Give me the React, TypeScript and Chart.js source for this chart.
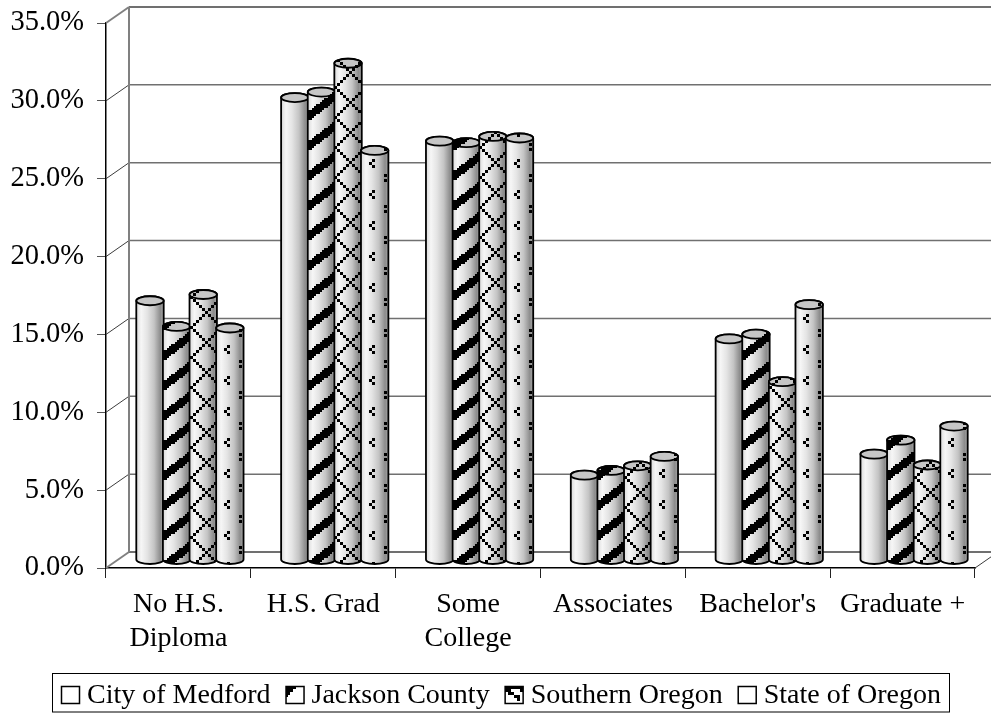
import React, { useEffect, useRef } from "react";
import { Chart, registerables } from "chart.js";

Chart.register(...registerables);

const categories = [["No H.S.", "Diploma"], "H.S. Grad", ["Some", "College"], "Associates", "Bachelor's", "Graduate +"];
const seriesNames = ["City of Medford", "Jackson County", "Southern Oregon", "State of Oregon"];
const cityOfMedford = [16.65, 29.7, 26.9, 5.45, 14.2, 6.8];
const jacksonCounty = [15.0, 30.05, 26.8, 5.75, 14.5, 7.7];
const southernOregon = [17.05, 31.9, 27.2, 6.05, 11.45, 6.1];
const stateOfOregon = [14.9, 26.3, 27.1, 6.65, 16.4, 8.6];

const FONT = "'Liberation Serif', 'Times New Roman', serif";
const DEPTH_X = 23;
const DEPTH_Y = 16;
const BAR_DX = 11.5;
const BAR_DY = 8;
const CAP = 4.5;

function tile(w: number, h: number, paint: (c: CanvasRenderingContext2D) => void) {
  const cv = document.createElement("canvas");
  cv.width = w;
  cv.height = h;
  const c = cv.getContext("2d")!;
  c.fillStyle = "#000";
  paint(c);
  return cv;
}

function makeTiles() {
  const stripes = tile(40, 30, (c) => {
    for (let x = 0; x < 40; x += 2)
      for (let y = 0; y < 30; y += 2)
        if (((y + 0.75 * x) % 30 + 30) % 30 < 10) c.fillRect(x, y, 2, 2);
  });
  const lattice = tile(30, 30, (c) => {
    for (let x = 0; x < 30; x += 3)
      for (let y = 0; y < 30; y += 3) {
        const a = (x + y + 24) % 30;
        const b = (x - y + 36) % 30;
        if (a === 0 || b === 0) c.fillRect(x, y, 3, 3);
      }
  });
  const dots = tile(40, 31, (c) => {
    c.fillRect(11, 2, 3, 3);
    c.fillRect(8, 5, 3, 3);
    c.fillRect(11, 8, 3, 3);
    c.fillRect(23, 17, 3, 3);
    c.fillRect(23, 22, 3, 3);
  });
  return [null, stripes, lattice, dots];
}

function makeSwatchTiles() {
  const jackson = tile(18, 17, (c) => {
    c.fillRect(0, 0, 10, 3);
    c.fillRect(0, 3, 7, 3);
    c.fillRect(0, 6, 4, 3);
    c.fillRect(0, 9, 2, 2);
  });
  const southern = tile(18, 17, (c) => {
    c.fillRect(0, 0, 18, 3);
    c.fillRect(0, 3, 6, 3);
    c.fillRect(3, 6, 6, 3);
    c.fillRect(9, 9, 6, 3);
    c.fillRect(15, 3, 3, 3);
    c.fillRect(12, 12, 3, 3);
  });
  return [null, jackson, southern, null];
}

function fillTile(ctx: CanvasRenderingContext2D, cv: HTMLCanvasElement | null, ox: number, oy: number) {
  if (!cv) return;
  const p = ctx.createPattern(cv, "repeat")!;
  p.setTransform(new DOMMatrix().translate(Math.round(ox), Math.round(oy)));
  ctx.fillStyle = p;
  ctx.fill();
}

const wallPlugin = {
  id: "wall3d",
  beforeDatasetsDraw(chart: any) {
    const { ctx } = chart;
    const y = chart.scales.y;
    const x = chart.scales.x;
    const left = x.left;
    const right = x.right;
    ctx.save();
    y.ticks.forEach((t: any, i: number) => {
      const py = y.getPixelForValue(t.value);
      const edge = i === 0 || i === y.ticks.length - 1;
      ctx.strokeStyle = edge ? "#808080" : "#3c3c3c";
      ctx.lineWidth = edge ? 2 : 1;
      ctx.beginPath();
      ctx.moveTo(left, py);
      ctx.lineTo(left + DEPTH_X, py - DEPTH_Y);
      ctx.stroke();
      ctx.strokeStyle = "#707070";
      ctx.lineWidth = edge ? 2 : 1.5;
      ctx.beginPath();
      ctx.moveTo(left + DEPTH_X, py - DEPTH_Y);
      ctx.lineTo(right + DEPTH_X, py - DEPTH_Y);
      ctx.stroke();
    });
    ctx.strokeStyle = "#808080";
    ctx.lineWidth = 2;
    ctx.beginPath();
    ctx.moveTo(left + DEPTH_X, y.top - DEPTH_Y);
    ctx.lineTo(left + DEPTH_X, y.bottom - DEPTH_Y);
    ctx.stroke();
    ctx.strokeStyle = "#3c3c3c";
    ctx.lineWidth = 1;
    ctx.beginPath();
    ctx.moveTo(right, y.bottom);
    ctx.lineTo(right + DEPTH_X, y.bottom - DEPTH_Y);
    ctx.stroke();
    ctx.restore();
  },
};

function cylinderPlugin(tiles: any[]) {
  return {
    id: "cylinders",
    afterDatasetsDraw(chart: any) {
      const { ctx } = chart;
      chart.data.datasets.forEach((_: any, di: number) => {
        chart.getDatasetMeta(di).data.forEach((bar: any) => {
          const cx = bar.x + BAR_DX;
          const r = 13.7;
          const top = bar.y - BAR_DY;
          const base = bar.base - BAR_DY;
          const l = cx - r;
          const grad = ctx.createLinearGradient(l, 0, l + 2 * r, 0);
          grad.addColorStop(0, "#dadada");
          grad.addColorStop(0.18, "#f6f6f6");
          grad.addColorStop(0.4, "#e4e4e4");
          grad.addColorStop(0.65, "#c4c4c4");
          grad.addColorStop(0.88, "#8c8c8c");
          grad.addColorStop(1, "#a8a8a8");
          ctx.save();
          ctx.beginPath();
          ctx.moveTo(l, top);
          ctx.lineTo(l, base);
          ctx.ellipse(cx, base, r, CAP, 0, Math.PI, 0, true);
          ctx.lineTo(l + 2 * r, top);
          ctx.ellipse(cx, top, r, CAP, 0, 0, Math.PI, true);
          ctx.closePath();
          ctx.fillStyle = grad;
          ctx.fill();
          fillTile(ctx, tiles[di], l, base);
          ctx.strokeStyle = "#000";
          ctx.lineWidth = 1.8;
          ctx.stroke();
          ctx.beginPath();
          ctx.ellipse(cx, top, r, CAP, 0, 0, Math.PI * 2);
          ctx.fillStyle = "#c6c6c6";
          ctx.fill();
          fillTile(ctx, tiles[di], l, base);
          ctx.stroke();
          ctx.restore();
        });
      });
    },
  };
}

function legendPlugin(tiles: any[]) {
  return {
    id: "boxLegend",
    afterDraw(chart: any) {
      const { ctx } = chart;
      ctx.save();
      ctx.strokeStyle = "#000";
      ctx.lineWidth = 1;
      ctx.strokeRect(52.5, 673.5, 897, 38.5);
      ctx.font = "28px " + FONT;
      ctx.textBaseline = "middle";
      ctx.textAlign = "left";
      let x = 61;
      chart.data.datasets.forEach((ds: any, i: number) => {
        ctx.beginPath();
        ctx.rect(x + 0.5, 686.5, 18, 17);
        ctx.fillStyle = "#fff";
        ctx.fill();
        fillTile(ctx, tiles[i], x, 686);
        ctx.lineWidth = 1.5;
        ctx.strokeStyle = "#000";
        ctx.stroke();
        ctx.fillStyle = "#000";
        ctx.fillText(ds.label, x + 26, 696);
        x += 26 + ctx.measureText(ds.label).width + 15;
      });
      ctx.restore();
    },
  };
}

export default function App() {
  const ref = useRef<HTMLCanvasElement>(null);
  useEffect(() => {
    const tiles = makeTiles();
    const swatches = makeSwatchTiles();
    const values = [cityOfMedford, jacksonCounty, southernOregon, stateOfOregon];
    const noPad = (s: any) => {
      s.paddingTop = 0;
      s.paddingBottom = 0;
      s.paddingLeft = 0;
      s.paddingRight = 0;
    };
    const chart = new Chart(ref.current!, {
      type: "bar",
      data: {
        labels: categories as any,
        datasets: seriesNames.map((label, i) => ({
          label,
          data: values[i],
          backgroundColor: "rgba(0,0,0,0)",
          borderWidth: 0,
          categoryPercentage: 0.735,
          barPercentage: 1,
        })),
      },
      options: {
        responsive: false,
        animation: false,
        layout: { autoPadding: false, padding: { top: 23, right: 16, left: 0, bottom: 0 } },
        plugins: { legend: { display: false }, tooltip: { enabled: false }, title: { display: false } },
        scales: {
          x: {
            afterFit: (s: any) => { s.height = 145; noPad(s); },
            grid: { drawOnChartArea: false, tickLength: 10, color: "#222", lineWidth: 1 },
            border: { color: "#000", width: 1.5 },
            ticks: {
              font: { family: FONT, size: 28, lineHeight: 1.2 },
              color: "#000",
              padding: 10,
              maxRotation: 0,
              autoSkip: false,
            },
          },
          y: {
            min: 0,
            max: 35,
            afterFit: (s: any) => { s.width = 106; noPad(s); },
            grid: { drawOnChartArea: false, tickLength: 9, color: "#555", lineWidth: 1 },
            border: { color: "#000", width: 1.5 },
            ticks: {
              stepSize: 5,
              font: { family: FONT, size: 28.5 },
              color: "#000",
              padding: 13,
              callback: (v: any) => Number(v).toFixed(1) + "%",
            },
          },
        },
      },
      plugins: [wallPlugin, cylinderPlugin(tiles), legendPlugin(swatches)],
    } as any);
    return () => chart.destroy();
  }, []);
  return (
    <canvas
      ref={ref}
      width={991}
      height={713}
      style={{ position: "fixed", left: 0, top: 0, width: 991, height: 713, display: "block" }}
    />
  );
}
